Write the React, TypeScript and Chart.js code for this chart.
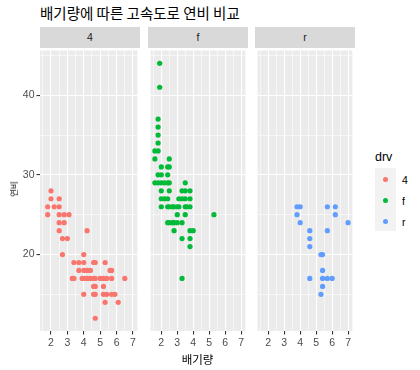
import React, { useEffect, useRef } from "react";
import { Chart, registerables } from "chart.js";

Chart.register(...registerables);

const TITLE = "배기량에 따른 고속도로 연비 비교";
const X_TITLE = "배기량";
const Y_TITLE = "연비";
const LEGEND_TITLE = "drv";
const PANELS = ["4", "f", "r"];
const COLORS = ["#F8766D", "#00BA38", "#619CFF"];

const X_MAJOR = [2, 3, 4, 5, 6, 7];
const X_MINOR = [1.5, 2.5, 3.5, 4.5, 5.5, 6.5];
const Y_MAJOR = [20, 30, 40];
const Y_MINOR = [15, 25, 35, 45];
const X_MIN = 1.33;
const X_MAX = 7.27;
const Y_MIN = 10.4;
const Y_MAX = 45.6;

// drv = 4
const displ4 = [1.8, 1.8, 2.0, 2.0, 2.2, 2.5, 2.5, 2.5, 2.5, 2.5, 2.8, 2.8, 3.1, 4.2, 2.7, 3.0, 2.7, 4.0,
  3.4, 3.7, 4.0, 4.6, 4.7, 5.3, 3.7, 4.0, 4.2, 4.4, 5.6, 5.7,
  3.3, 3.4, 3.9, 4.0, 4.2, 4.4, 4.6, 4.7, 5.0, 5.2, 5.4, 5.7, 6.5,
  4.6, 4.7, 5.2, 4.0, 4.6, 4.7, 5.2, 5.4, 5.7, 5.9, 5.3, 6.1, 4.7];
const hwy4 = [26, 25, 28, 27, 26, 27, 26, 25, 24, 23, 25, 24, 25, 23, 22, 22, 20, 20,
  19, 19, 19, 19, 19, 19, 18, 18, 18, 18, 18, 18,
  17, 17, 17, 17, 17, 17, 17, 17, 17, 17, 17, 17, 17,
  16, 16, 16, 15, 15, 15, 15, 15, 15, 15, 14, 14, 12];

// drv = f
const displF = [1.9, 1.9, 1.8, 1.8, 1.8, 1.8, 1.6, 1.8, 1.6, 2.5,
  2.0, 2.4, 2.5, 1.8, 2.0, 2.4,
  1.6, 1.8, 2.0, 2.2, 2.4, 2.5, 3.5,
  2.0, 2.5, 3.3, 3.5, 3.8,
  2.0, 2.2, 2.4, 3.1, 3.3, 3.5, 3.8,
  2.0, 2.4, 2.5, 2.7, 2.8, 3.0, 3.1, 3.5, 3.6, 3.8,
  3.0, 3.5, 5.3,
  2.4, 2.5, 2.7, 2.8, 3.0, 3.3,
  2.8, 3.8, 4.0, 3.3, 3.8, 3.8, 3.3];
const hwyF = [44, 41, 37, 36, 35, 34, 33, 33, 32, 32,
  31, 31, 31, 30, 30, 30,
  29, 29, 29, 29, 29, 29, 29,
  28, 28, 28, 28, 28,
  27, 27, 27, 27, 27, 27, 27,
  26, 26, 26, 26, 26, 26, 26, 26, 26, 26,
  25, 25, 25,
  24, 24, 24, 24, 24, 24,
  23, 23, 23, 22, 22, 21, 17];

// drv = r
const displR = [3.8, 4.0, 5.7, 6.2, 3.8, 6.2, 4.0, 7.0, 4.6, 5.7, 4.6, 4.6, 5.3, 5.4, 5.4, 4.6, 5.4, 5.7, 6.0, 5.4, 5.3];
const hwyR = [26, 26, 26, 26, 25, 25, 24, 24, 23, 23, 22, 21, 20, 20, 18, 17, 17, 17, 17, 16, 15];

const SERIES = [
  { x: displ4, y: hwy4 },
  { x: displF, y: hwyF },
  { x: displR, y: hwyR },
];

const FONT = '"Liberation Sans", Arial, "Noto Sans CJK KR", sans-serif';
const KFONT = '"Noto Sans CJK KR", "Liberation Sans", sans-serif';

const PANEL_LEFT = [40, 148, 255];
const PANEL_W = 100;
const PANEL_TOP = 48;
const PANEL_H = 283;
const STRIP_TOP = 27;
const CANVAS_H = 370 - PANEL_TOP;
const Y_AXIS_W = 40;

const bgPlugin = {
  id: "panelBg",
  beforeDraw(chart: any) {
    const { ctx, chartArea } = chart;
    ctx.save();
    ctx.fillStyle = "#EBEBEB";
    ctx.fillRect(chartArea.left, chartArea.top, chartArea.right - chartArea.left, chartArea.bottom - chartArea.top);
    ctx.restore();
  },
};

function buildTicks(major: number[], minor: number[]) {
  return [...major.map((v) => ({ value: v, major: true })), ...minor.map((v) => ({ value: v, major: false }))].sort(
    (a, b) => a.value - b.value
  );
}

function Panel({ idx }: { idx: number }) {
  const ref = useRef<HTMLCanvasElement>(null);
  const showY = idx === 0;
  useEffect(() => {
    if (!ref.current) return;
    const s = SERIES[idx];
    const data = s.x.map((x, i) => ({ x, y: s.y[i] }));
    const chart = new Chart(ref.current, {
      type: "scatter",
      data: {
        datasets: [
          {
            data,
            backgroundColor: COLORS[idx],
            borderWidth: 0,
            pointRadius: 2.6,
            pointHoverRadius: 2.6,
          },
        ],
      },
      plugins: [bgPlugin],
      options: {
        animation: false,
        responsive: false,
        maintainAspectRatio: false,
        events: [],
        layout: { padding: 0 },
        plugins: { legend: { display: false }, tooltip: { enabled: false }, title: { display: false } },
        scales: {
          x: {
            type: "linear",
            min: X_MIN,
            max: X_MAX,
            afterBuildTicks: (sc: any) => {
              sc.ticks = buildTicks(X_MAJOR, X_MINOR);
            },
            afterFit: (sc: any) => {
              sc.height = CANVAS_H - PANEL_H;
              sc.paddingLeft = 0;
              sc.paddingRight = 0;
            },
            border: { display: false },
            grid: {
              color: "#FFFFFF",
              lineWidth: (c: any) => (c.tick && c.tick.major ? 1.1 : 0.55),
              tickLength: 3.5,
              tickWidth: 1.1,
              tickColor: (c: any) => (c.tick && c.tick.major ? "#333333" : "rgba(0,0,0,0)"),
            },
            ticks: {
              autoSkip: false,
              maxRotation: 0,
              minRotation: 0,
              padding: 2,
              color: "#4D4D4D",
              font: { family: FONT, size: 10.5 },
              callback: (v: any) => (X_MAJOR.includes(Number(v)) ? String(v) : ""),
            },
          },
          y: {
            type: "linear",
            min: Y_MIN,
            max: Y_MAX,
            afterBuildTicks: (sc: any) => {
              sc.ticks = buildTicks(Y_MAJOR, Y_MINOR);
            },
            afterFit: (sc: any) => {
              sc.width = showY ? Y_AXIS_W : 0;
              sc.paddingTop = 0;
              sc.paddingBottom = 0;
            },
            border: { display: false },
            grid: {
              color: "#FFFFFF",
              lineWidth: (c: any) => (c.tick && c.tick.major ? 1.1 : 0.55),
              drawTicks: showY,
              tickLength: 3.5,
              tickWidth: 1.1,
              tickColor: (c: any) => (c.tick && c.tick.major ? "#333333" : "rgba(0,0,0,0)"),
            },
            ticks: {
              display: showY,
              autoSkip: false,
              padding: 2,
              color: "#4D4D4D",
              font: { family: FONT, size: 10.5 },
              callback: (v: any) => (Y_MAJOR.includes(Number(v)) ? String(v) : ""),
            },
          },
        },
      } as any,
    });
    return () => chart.destroy();
  }, [idx]);
  const left = showY ? 0 : PANEL_LEFT[idx];
  const width = showY ? PANEL_LEFT[0] + PANEL_W : PANEL_W;
  return (
    <canvas
      ref={ref}
      width={width}
      height={CANVAS_H}
      style={{ position: "absolute", left, top: PANEL_TOP, width, height: CANVAS_H }}
    />
  );
}

export default function App() {
  return (
    <div
      style={{
        position: "absolute",
        left: 0,
        top: 0,
        width: 420,
        height: 370,
        background: "#FFFFFF",
        fontFamily: FONT,
        overflow: "hidden",
      }}
    >
      <div
        style={{
          position: "absolute",
          left: 40,
          top: 4,
          height: 18,
          lineHeight: "18px",
          fontSize: 14.5,
          fontFamily: KFONT,
          color: "#000000",
          whiteSpace: "nowrap",
        }}
      >
        {TITLE}
      </div>
      {PANELS.map((p, i) => (
        <div
          key={"strip" + p}
          style={{
            position: "absolute",
            left: PANEL_LEFT[i],
            top: STRIP_TOP,
            width: PANEL_W,
            height: PANEL_TOP - STRIP_TOP,
            background: "#D9D9D9",
            color: "#1A1A1A",
            fontSize: 10.5,
            lineHeight: PANEL_TOP - STRIP_TOP + "px",
            textAlign: "center",
          }}
        >
          {p}
        </div>
      ))}
      {PANELS.map((p, i) => (
        <Panel key={"panel" + p} idx={i} />
      ))}
      <div
        style={{
          position: "absolute",
          left: (PANEL_LEFT[0] + PANEL_LEFT[2] + PANEL_W) / 2,
          top: 359,
          transform: "translate(-50%, -50%)",
          fontSize: 11.5,
          fontFamily: KFONT,
          color: "#000000",
          whiteSpace: "nowrap",
        }}
      >
        {X_TITLE}
      </div>
      <div
        style={{
          position: "absolute",
          left: 12.5,
          top: 189,
          transform: "translate(-50%, -50%) rotate(-90deg)",
          fontSize: 8.5,
          lineHeight: "10px",
          fontFamily: KFONT,
          color: "#000000",
          whiteSpace: "nowrap",
        }}
      >
        {Y_TITLE}
      </div>
      <div
        style={{
          position: "absolute",
          left: 375,
          top: 149,
          fontSize: 12.5,
          lineHeight: "16px",
          color: "#000000",
        }}
      >
        {LEGEND_TITLE}
      </div>
      <div
        style={{
          position: "absolute",
          left: 375,
          top: 168,
          width: 21,
          height: 63,
          background: "#F2F2F2",
        }}
      />
      {PANELS.map((p, i) => (
        <React.Fragment key={"leg" + p}>
          <div
            style={{
              position: "absolute",
              left: 385.5 - 2.6,
              top: 179.5 + i * 21 - 2.6,
              width: 5.2,
              height: 5.2,
              borderRadius: "50%",
              background: COLORS[i],
            }}
          />
          <div
            style={{
              position: "absolute",
              left: 402,
              top: 179.5 + i * 21 - 7,
              height: 14,
              lineHeight: "14px",
              fontSize: 10.5,
              color: "#000000",
            }}
          >
            {p}
          </div>
        </React.Fragment>
      ))}
    </div>
  );
}
